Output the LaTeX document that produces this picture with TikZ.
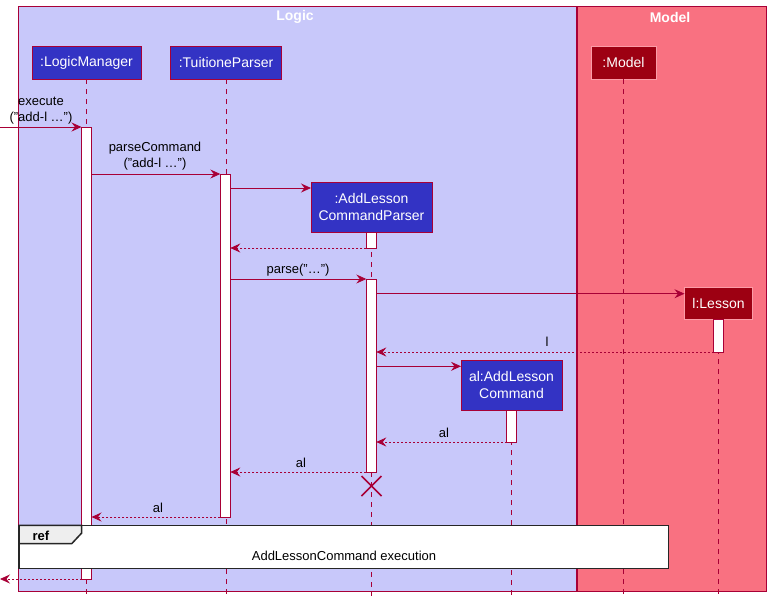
\documentclass[tikz,border=0pt]{standalone}
\usepackage{fontspec}
\setmainfont{Liberation Sans}
\usetikzlibrary{arrows.meta,calc}
\definecolor{logicbg}{HTML}{C8C8FA}
\definecolor{modelbg}{HTML}{F97181}
\definecolor{logicc}{HTML}{3333C4}
\definecolor{modelc}{HTML}{9D0012}
\definecolor{bord}{HTML}{A80036}
\definecolor{tabgray}{HTML}{EEEEEE}
\begin{document}
\begin{tikzpicture}[x=1pt,y=-1pt,
  frame/.style={draw=bord,line width=1pt},
  ftitle/.style={text=white,font=\fontsize{14}{16}\selectfont\bfseries},
  lpart/.style={draw=bord,fill=logicc,text=white,line width=1pt,inner sep=0pt,outer sep=0pt,align=center,font=\fontsize{14}{17}\selectfont},
  mpart/.style={draw=modelbg!70!white,fill=modelc,text=white,line width=1pt,inner sep=0pt,outer sep=0pt,align=center,font=\fontsize{14}{17}\selectfont},
  life/.style={draw=bord,line width=0.8pt,dash pattern=on 5pt off 5pt},
  actbar/.style={draw=bord,fill=white,line width=0.9pt,minimum width=10pt,inner sep=0pt,outer sep=0pt,anchor=north},
  msg/.style={draw=bord,line width=0.8pt,-{Stealth[length=10pt,width=9pt,inset=3.5pt]}},
  ret/.style={msg,dash pattern=on 2pt off 2pt},
  lbl/.style={font=\fontsize{13}{16}\selectfont,inner sep=0pt,align=center}
]
\useasboundingbox (0,0) rectangle (771,603);
% frames
\path[frame,fill=logicbg] (18,6) rectangle (576,591.5);
\path[frame,fill=modelbg] (577.5,6) rectangle (766.5,591.5);
\node[ftitle] (tlogic) at (295,17) {Logic};
\node[ftitle] (tmodel) at (670,17) {Model};
% participants
\node[lpart,minimum width=109pt,minimum height=33pt] (lm) at (86.5,62.5) {:LogicManager};
\node[lpart,minimum width=111pt,minimum height=33pt] (tp) at (226,62.5) {:TuitioneParser};
\node[mpart,minimum width=65pt,minimum height=33pt] (mdl) at (623.5,62.5) {:Model};
% lifeline ends
\coordinate (lmend) at (86.5,596);
\coordinate (tpend) at (226,596);
\coordinate (mdlend) at (623.5,596);
\coordinate (aclpend) at (371.5,596);
\coordinate (lesend) at (718.5,596);
\coordinate (alcend) at (511.5,596);
\draw[life] (lm.south) -- (lmend);
\draw[life] (tp.south) -- (tpend);
\draw[life] (mdl.south) -- (mdlend);
% created participants
\node[lpart,minimum width=121pt,minimum height=50pt] (aclp) at (371.5,207) {:AddLesson\\CommandParser};
\node[mpart,minimum width=68pt,minimum height=32pt] (les) at (718.5,303) {l:Lesson};
\node[lpart,minimum width=101pt,minimum height=50pt] (alc) at (511.5,385) {al:AddLesson\\Command};
\draw[life] (aclp.south) -- (aclpend);
\draw[life] (les.south) -- (lesend);
\draw[life] (alc.south) -- (alcend);
% activation bars
\node[actbar,minimum height=452pt] (alm) at (86.5,127) {};
\node[actbar,minimum height=343pt] (atp) at (225.3,174) {};
\node[actbar,minimum height=16pt] (aaclpa) at (371.3,232) {};
\node[actbar,minimum height=193pt] (aaclpb) at (371.3,279) {};
\node[actbar,minimum height=33pt] (ales) at (718.7,319) {};
\node[actbar,minimum height=32pt] (aalc) at (511.5,410) {};
% messages
\coordinate (src) at (0,127);
\draw[msg] (src) -- (alm.west |- src);
\node[lbl] (lexec) at (41,110.5) {execute\\("add-l …")};
\draw[msg] (alm.east |- 0,174) -- (atp.west |- 0,174);
\node[lbl] (lparse) at (155,156) {parseCommand\\("add-l …")};
\draw[msg] (atp.east |- 0,188) -- (aclp.west |- 0,188);
\draw[ret] (aaclpa.south west) -- (atp.east |- 0,248);
\draw[msg] (atp.east |- 0,279) -- (aaclpb.north west);
\node[lbl] (lparse2) at (298,270) {parse("…")};
\draw[msg] (aaclpb.east |- 0,293.7) -- (les.west |- 0,293.7);
\draw[ret] (ales.south west) -- (aaclpb.east |- 0,352);
\node[lbl] (ll) at (547,342) {l};
\draw[msg] (aaclpb.east |- 0,366.3) -- (alc.west |- 0,366.3);
\draw[ret] (aalc.south west) -- (aaclpb.east |- 0,442);
\node[lbl] (lal1) at (444,433) {al};
\draw[ret] (aaclpb.south west) -- (atp.east |- 0,472);
\node[lbl] (lal2) at (301,463) {al};
% destroy
\coordinate (xc) at (371.5,486);
\draw[draw=bord,line width=1.6pt] ($(xc)+(-10,-10)$) -- ($(xc)+(10,10)$);
\draw[draw=bord,line width=1.6pt] ($(xc)+(-10,10)$) -- ($(xc)+(10,-10)$);
\draw[ret] (atp.south west) -- (alm.east |- 0,517);
\node[lbl] (lal3) at (158,508) {al};
% ref
\draw[draw=black!85,line width=1.5pt,fill=white] (19,525.3) rectangle (668.3,568.3);
\draw[draw=black!85,line width=1.5pt,fill=tabgray] (19,525.3) -- (81.7,525.3) -- (81.7,533) -- (71.7,543.7) -- (19,543.7) -- cycle;
\node[lbl,font=\fontsize{13}{16}\selectfont\bfseries] (lref) at (41,535.5) {ref};
\node[lbl] (lrefx) at (344,556) {AddLessonCommand execution};
% final return
\coordinate (dst) at (0,579);
\draw[ret] (alm.south west) -- (dst);
\end{tikzpicture}
\end{document}
